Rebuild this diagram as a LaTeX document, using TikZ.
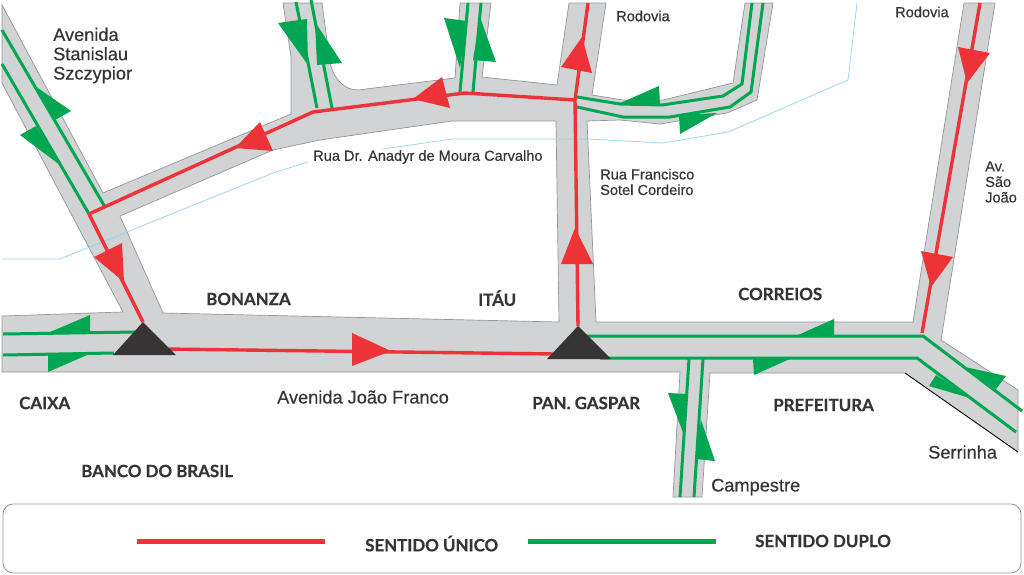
\documentclass[tikz,border=0pt]{standalone}
\usepackage{fontspec}
\setmainfont[BoldFont={Liberation Sans},BoldFeatures={FakeBold=0.4}]{Liberation Sans}
\newfontfamily\capsfont[BoldFeatures={FakeBold=0.6}]{Lato}
\definecolor{roadgray}{HTML}{D1D3D4}
\definecolor{edgegray}{HTML}{939598}
\definecolor{routered}{HTML}{EE3338}
\definecolor{routegreen}{HTML}{00A651}
\definecolor{inkdark}{HTML}{363435}
\definecolor{riverblue}{HTML}{8FD3EE}
\tikzset{
  road/.style={fill=roadgray,draw=edgegray,line width=0.7pt,even odd rule},
  river/.style={draw=riverblue,line width=0.7pt},
  oneway/.style={draw=routered,line width=3.4pt},
  twoway/.style={draw=routegreen,line width=3pt},
  redhead/.style={fill=routered},
  greenhead/.style={fill=routegreen},
  junction/.style={fill=inkdark},
  street/.style={text=inkdark,inner sep=0pt,anchor=west,align=left,font=\bfseries\fontsize{18.2}{19.3}\selectfont},
  smallstreet/.style={street,font=\bfseries\fontsize{14.6}{15.5}\selectfont},
  place/.style={text=inkdark,inner sep=0pt,anchor=west,font=\capsfont\bfseries\fontsize{16.9}{18}\selectfont},
}
\begin{document}
\begin{tikzpicture}[x=1pt,y=-1pt]
\useasboundingbox (0,0) rectangle (1024,574);

% roads
\path[road]
  (2,5) -- (103,193) -- (291,114) -- (291,57) -- (283,3) -- (322,3) -- (330,63)
  .. controls (334,80) and (345,90) .. (358,90)
  -- (455,78) -- (460,3) -- (491,3) -- (482,77) -- (557,85) -- (569,3) -- (606,3)
  -- (592,95) -- (623,100) -- (663,100) -- (733,83) -- (745,3) -- (773,3) -- (757,100)
  -- (727,113) -- (660,124) -- (620,120) -- (587,121) -- (596,322) -- (913,322)
  -- (964,3) -- (995,3) -- (941,340) -- (1018,390) -- (1018,452) -- (905,373)
  -- (710,373) -- (702,497) -- (673,497) -- (680,372) -- (2,372) -- (2,316)
  -- (123,312) -- (2,83) -- cycle
  (120,216) -- (163,313) -- (559,322) -- (556,121) -- (452,121) -- (320,140)
  -- (273,150) -- cycle;
\draw[black,line width=0.8pt] (905,373) -- (1018,452);

% river
\draw[river] (2,259) -- (60,259) -- (273,173) -- (308,162);
\draw[river] (383,149) -- (452,139) -- (588,139) -- (663,143) -- (728,132) -- (848,80) -- (857,3);

% two way routes
\draw[twoway]
  (2,30) -- (105,207)
  (2,64) -- (89,214)
  (296,2) -- (317,108)
  (311,0) -- (332,108)
  (468,3) -- (460,92)
  (481,3) -- (473,92)
  (577,97) -- (620,104) -- (662,105) -- (723,96) -- (742,84) -- (752,3)
  (577,107) -- (623,117) -- (670,117) -- (730,107) -- (751,92) -- (763,3)
  (585,336) -- (923,336) -- (1022,411)
  (600,358) -- (917,358) -- (1016,432)
  (689,359) -- (680,497)
  (703,359) -- (694,497)
  (3,334) -- (136,332)
  (3,355) -- (114,353) ;

% one way routes
\coordinate (anadyr) at (89,214);
\coordinate (francisco) at (575,100);
\coordinate (bonanza) at (143,322);
\coordinate (gaspar) at (578,326);
\draw[oneway]
  (anadyr) -- (313,112) -- (465,93) -- (francisco)
  (anadyr) -- (bonanza)
  (gaspar) -- (francisco) -- (588,3)
  (165,349) -- (556,354)
  (980,3) -- (922,333) ;

% arrowheads
\fill[redhead]
  (235,148) -- (260,122) -- (273,151) -- cycle
  (413,99) -- (442,77) -- (450,108) -- cycle
  (124,282) -- (94,257) -- (122,243) -- cycle
  (582,37) -- (561,67) -- (592,73) -- cycle
  (575,228) -- (561,264) -- (593,264) -- cycle
  (391,351) -- (352,333) -- (352,366) -- cycle
  (967,83) -- (958,47) -- (990,53) -- cycle
  (931,287) -- (921,251) -- (953,257) -- cycle ;
\fill[greenhead]
  (35,86) -- (71,111) -- (55,120) -- cycle
  (60,165) -- (20,135) -- (36,126) -- cycle
  (308,65) -- (278,23) -- (307,19) -- cycle
  (315,22) -- (342,63) -- (317,65) -- cycle
  (460,68) -- (444,18) -- (467,21) -- cycle
  (480,17) -- (496,62) -- (473,60) -- cycle
  (618,104) -- (659,86) -- (660,105) -- cycle
  (717,113) -- (679,115) -- (680,134) -- cycle
  (798,335) -- (834,319) -- (834,335) -- cycle
  (792,358) -- (753,359) -- (754,375) -- cycle
  (965,367) -- (1006,376) -- (996,389) -- cycle
  (970,398) -- (936,375) -- (929,386) -- cycle
  (684,435) -- (668,393) -- (687,394) -- cycle
  (701,420) -- (715,461) -- (696,459) -- cycle
  (50,332) -- (90,315) -- (90,332) -- cycle
  (87,355) -- (48,355) -- (48,372) -- cycle ;

% junctions
\fill[junction] (bonanza) -- (113,355) -- (176,355) -- cycle;
\fill[junction] (gaspar) -- (547,359) -- (611,359) -- cycle;

% street names
\node[street] (stanislau) at (53,55.5) {Avenida\\Stanislau\\Szczypior};
\node[smallstreet] (rodoviaA) at (616,16) {Rodovia};
\node[smallstreet] (rodoviaB) at (895,12) {Rodovia};
\node[smallstreet] (anadyrname) at (313,157) {Rua Dr. Anadyr de Moura Carvalho};
\node[smallstreet] (francisconame) at (600,182) {Rua Francisco\\Sotel Cordeiro};
\node[smallstreet] (saojoao) at (985,182) {Av.\\São\\João};
\node[street] (joaofranco) at (277,397) {Avenida João Franco};
\node[street] (campestre) at (711,487) {Campestre};
\node[street] (serrinha) at (928,452) {Serrinha};

% places
\node[place] (bonanzaname) at (206,299) {BONANZA};
\node[place] (itau) at (478,298) {ITÁU};
\node[place] (correios) at (738,294) {CORREIOS};
\node[place] (caixa) at (19,403) {CAIXA};
\node[place] (panGaspar) at (532,403) {PAN. GASPAR};
\node[place] (prefeitura) at (773,405) {PREFEITURA};
\node[place] (bancobrasil) at (81,471) {BANCO DO BRASIL};

% legend
\draw[edgegray,line width=0.8pt,rounded corners=10pt] (3,504) rectangle (1021,573);
\coordinate (redA) at (137,541);
\coordinate (redB) at (325,541);
\coordinate (greenA) at (528,541);
\coordinate (greenB) at (716,541);
\draw[oneway,line width=5pt] (redA) -- (redB);
\draw[twoway,line width=5pt] (greenA) -- (greenB);
\node[place] (unico) at (365,543.5) {SENTIDO ÚNICO};
\node[place] (duplo) at (755,541) {SENTIDO DUPLO};
\end{tikzpicture}
\end{document}
